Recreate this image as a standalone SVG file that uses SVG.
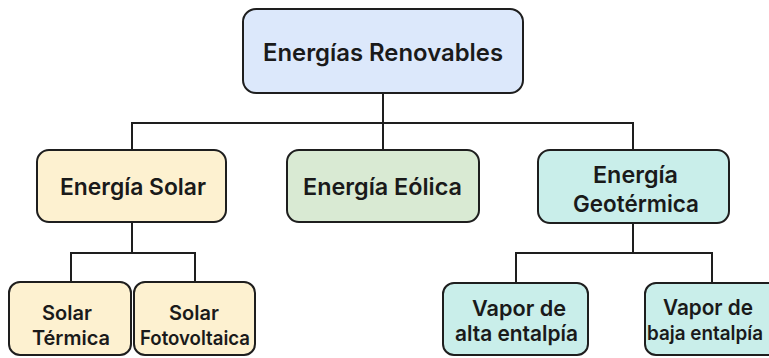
<svg xmlns="http://www.w3.org/2000/svg" width="769" height="358" viewBox="0 0 769 358">
<style>
.box{stroke:#1e1e1e;stroke-width:2}
.blue{fill:#dce8fb}
.yellow{fill:#fdf1d0}
.green{fill:#d9ead3}
.teal{fill:#c9eeea}
.t{font-family:Inter,"Liberation Sans",sans-serif;font-weight:600;fill:#1a1a1a}
.m{text-anchor:middle}
.xl{font-size:24px}
.l{font-size:23px}
.s{font-size:22px}
.xs{font-size:20px}
.conn{fill:none;stroke:#1e1e1e;stroke-width:2}
</style>
<rect width="769" height="358" fill="#ffffff"/>
<g id="connectors">
<path class="conn" d="M383 93V150M132 150V123H633V150"/>
<path class="conn" d="M132 222V253M71 282V253H195V282"/>
<path class="conn" d="M633 223V253M516 283V253H712V283"/>
</g>
<g id="renovables">
<rect class="box blue" x="243" y="9" width="280" height="84" rx="13"/>
<text class="t xl" x="263" y="61" textLength="240" lengthAdjust="spacingAndGlyphs">Energías Renovables</text>
</g>
<g id="solar">
<rect class="box yellow" x="37" y="150" width="189" height="72" rx="12"/>
<text class="t l" x="60" y="195" textLength="146" lengthAdjust="spacingAndGlyphs">Energía Solar</text>
</g>
<g id="eolica">
<rect class="box green" x="287" y="150" width="192" height="72" rx="12"/>
<text class="t l" x="303" y="195" textLength="159" lengthAdjust="spacingAndGlyphs">Energía Eólica</text>
</g>
<g id="geotermica">
<rect class="box teal" x="538" y="150" width="191" height="73" rx="12"/>
<text class="t l" x="593" y="183" textLength="85" lengthAdjust="spacingAndGlyphs">Energía</text>
<text class="t l" x="573" y="212" textLength="126" lengthAdjust="spacingAndGlyphs">Geotérmica</text>
</g>
<g id="solar-termica">
<rect class="box yellow" x="9" y="282" width="122" height="73" rx="11"/>
<text class="t xs m" x="67" y="320">Solar</text>
<text class="t xs m" x="71" y="345">Térmica</text>
</g>
<g id="solar-fotovoltaica">
<rect class="box yellow" x="134" y="282" width="121" height="73" rx="11"/>
<text class="t xs m" x="194" y="320">Solar</text>
<text class="t xs" x="140" y="345" textLength="110" lengthAdjust="spacingAndGlyphs">Fotovoltaica</text>
</g>
<g id="vapor-alta">
<rect class="box teal" x="443" y="283" width="145" height="72" rx="11"/>
<text class="t s" x="472" y="316" textLength="94" lengthAdjust="spacingAndGlyphs">Vapor de</text>
<text class="t s" x="455" y="341" textLength="123" lengthAdjust="spacingAndGlyphs">alta entalpía</text>
</g>
<g id="vapor-baja">
<rect class="box teal" x="645" y="283" width="140" height="72" rx="11"/>
<text class="t s" x="663" y="315" textLength="90" lengthAdjust="spacingAndGlyphs">Vapor de</text>
<text class="t xs" x="647" y="340" textLength="116" lengthAdjust="spacingAndGlyphs">baja entalpía</text>
</g>
</svg>
